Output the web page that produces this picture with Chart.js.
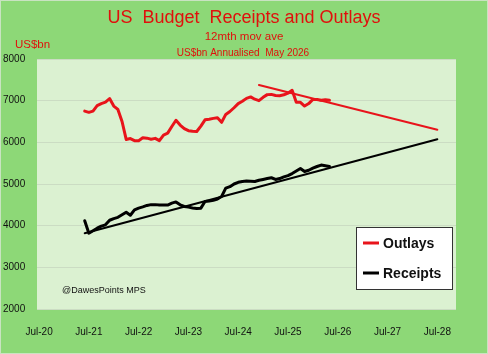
<!DOCTYPE html>
<html>
<head>
<meta charset="utf-8">
<script src="https://cdn.jsdelivr.net/npm/chart.js@4/dist/chart.umd.min.js"></script>
<style>
  html, body { margin: 0; padding: 0; background: #8dd877; }
  #wrap { width: 488px; height: 354px; }
</style>
</head>
<body>
<div id="wrap"><canvas id="chart" width="488" height="354"></canvas></div>
<script>
// month index: 0 = Jul-20
const tickIdx = [0, 12, 24, 36, 48, 60, 72, 84, 96];
const tickLabels = ['Jul-20', 'Jul-21', 'Jul-22', 'Jul-23', 'Jul-24', 'Jul-25', 'Jul-26', 'Jul-27', 'Jul-28'];

const firstMonth = 11; // Jun-21
const outlays = [
  6750, 6720, 6750, 6880, 6930, 6965, 7050, 6870, 6790, 6500,
  6070, 6090, 6040, 6040, 6110, 6100, 6075, 6095, 6040, 6175,
  6220, 6380, 6530, 6415, 6330, 6280, 6265, 6260, 6390, 6540,
  6555, 6575, 6590, 6480, 6670, 6740, 6830, 6930, 6985, 7055,
  7090, 7035, 7000, 7080, 7145, 7150, 7125, 7120, 7140, 7180,
  7250, 6960, 6960, 6870, 6930, 7030, 7030, 7010, 7020, 7010
];
const receipts = [
  4120, 3820, 3880, 3940, 3990, 4020, 4130, 4170, 4200, 4260,
  4320, 4250, 4380, 4420, 4450, 4485, 4505, 4505, 4495, 4495,
  4495, 4540, 4570, 4500, 4460, 4445, 4425, 4410, 4420, 4580,
  4590, 4610, 4640, 4700, 4900, 4935, 5000, 5040, 5060, 5070,
  5065, 5060, 5090, 5110, 5130, 5150, 5110, 5130, 5170, 5200,
  5250, 5310, 5370, 5300, 5330, 5380, 5420, 5455, 5440, 5420
];
// trend lines: [month index, value]
const outlaysTrend = [[53, 7375], [96, 6300]];
const receiptsTrend = [[11, 3820], [96, 6075]];

const RED = '#e8141b';
const toPts = (vals, start) => vals.map((v, i) => ({ x: start + i, y: v }));
const trendPts = (t) => t.map(p => ({ x: p[0], y: p[1] }));

const bgPlugin = {
  id: 'bg',
  beforeDraw(chart) {
    const { ctx, chartArea: a } = chart;
    ctx.save();
    ctx.fillStyle = '#8dd877';
    ctx.fillRect(0, 0, chart.width, chart.height);
    ctx.strokeStyle = '#c9e3c1';
    ctx.lineWidth = 1;
    ctx.strokeRect(0.5, 0.5, chart.width - 1, chart.height - 1);
    ctx.fillStyle = '#dbf1d1';
    ctx.fillRect(a.left, a.top, a.right - a.left, a.bottom - a.top);
    ctx.restore();
  },
  afterDraw(chart) {
    const ctx = chart.ctx;
    ctx.save();
    ctx.textAlign = 'center';
    ctx.textBaseline = 'middle';
    ctx.fillStyle = '#e0100c';
    ctx.font = '18px "Liberation Sans", Arial, sans-serif';
    ctx.fillText('US  Budget  Receipts and Outlays', 244, 18);
    ctx.font = '11.5px "Liberation Sans", Arial, sans-serif';
    ctx.fillText('12mth mov ave', 244, 37);
    ctx.font = '10px "Liberation Sans", Arial, sans-serif';
    ctx.fillText('US$bn Annualised  May 2026', 243, 53);
    ctx.textAlign = 'left';
    ctx.font = '11.5px "Liberation Sans", Arial, sans-serif';
    ctx.fillText('US$bn', 15, 45);
    ctx.fillStyle = '#111';
    ctx.font = '9px "Liberation Sans", Arial, sans-serif';
    ctx.fillText('@DawesPoints MPS', 62, 291);

    // legend box
    ctx.fillStyle = '#ffffff';
    ctx.fillRect(356, 227, 96, 62);
    ctx.strokeStyle = '#333';
    ctx.lineWidth = 1;
    ctx.strokeRect(356.5, 227.5, 96, 62);
    const items = [
      { label: chart.data.datasets[0].label, color: chart.data.datasets[0].borderColor, y: 243 },
      { label: chart.data.datasets[1].label, color: chart.data.datasets[1].borderColor, y: 273 }
    ];
    ctx.font = 'bold 14px "Liberation Sans", Arial, sans-serif';
    items.forEach(it => {
      ctx.strokeStyle = it.color;
      ctx.lineWidth = 3;
      ctx.beginPath();
      ctx.moveTo(363, it.y);
      ctx.lineTo(379, it.y);
      ctx.stroke();
      ctx.fillStyle = '#111';
      ctx.fillText(it.label, 383, it.y + 1);
    });
    ctx.restore();
  }
};

new Chart(document.getElementById('chart'), {
  type: 'line',
  data: {
    datasets: [
      { label: 'Outlays', data: toPts(outlays, firstMonth), borderColor: RED, borderWidth: 3 },
      { label: 'Receipts', data: toPts(receipts, firstMonth), borderColor: '#000000', borderWidth: 3 },
      { label: 'Outlays trend', data: trendPts(outlaysTrend), borderColor: RED, borderWidth: 2 },
      { label: 'Receipts trend', data: trendPts(receiptsTrend), borderColor: '#000000', borderWidth: 2 }
    ]
  },
  options: {
    responsive: false,
    animation: false,
    layout: { padding: { left: 3, right: 32, top: 59, bottom: 0 } },
    elements: {
      point: { radius: 0 },
      line: { tension: 0, borderJoinStyle: 'round', borderCapStyle: 'round' }
    },
    plugins: { legend: { display: false }, tooltip: { enabled: false } },
    scales: {
      x: {
        type: 'linear',
        min: -0.5,
        max: 100.5,
        afterBuildTicks: (scale) => { scale.ticks = tickIdx.map(v => ({ value: v })); },
        afterFit: (scale) => { scale.height = 45; },
        grid: { display: false },
        border: { display: false },
        ticks: {
          autoSkip: false,
          maxRotation: 0,
          padding: 9,
          color: '#111',
          font: { family: '"Liberation Sans", Arial, sans-serif', size: 10 },
          callback: (v) => tickLabels[tickIdx.indexOf(v)]
        }
      },
      y: {
        min: 2000,
        max: 8000,
        afterFit: (scale) => { scale.width = 34; },
        grid: { color: '#cbdcc3', lineWidth: 1, drawTicks: false },
        border: { display: false },
        ticks: {
          stepSize: 1000,
          crossAlign: 'far',
          color: '#111',
          font: { family: '"Liberation Sans", Arial, sans-serif', size: 10 },
          callback: (v) => String(v)
        }
      }
    }
  },
  plugins: [bgPlugin]
});
</script>
</body>
</html>
